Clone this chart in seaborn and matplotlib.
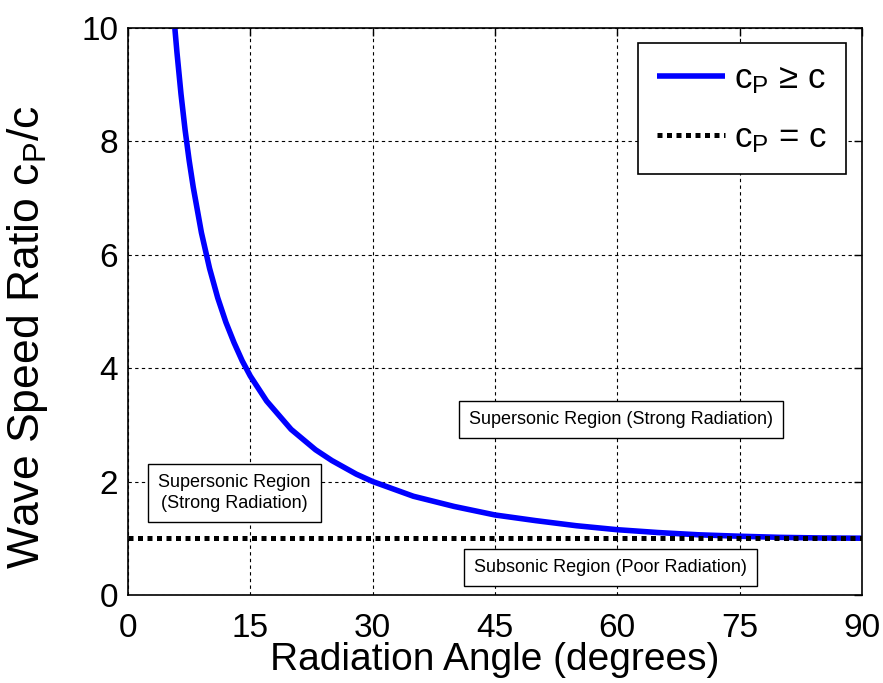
import matplotlib
matplotlib.use("Agg")
import matplotlib.pyplot as plt
import seaborn as sns
import pandas as pd

# Radiation angle (degrees) and wave speed ratio cP/c along the coincidence curve
angle = [5.74, 6.0, 6.5, 7.0, 7.5, 8.0, 9.0, 10.0, 11.0, 12.0, 13.0, 14.0, 15.0,
         17.0, 20.0, 23.0, 25.0, 28.0, 30.0, 35.0, 40.0, 45.0, 50.0, 55.0,
         60.0, 65.0, 70.0, 75.0, 80.0, 85.0, 90.0]
ratio = [10.0, 9.57, 8.83, 8.20, 7.66, 7.19, 6.39, 5.76, 5.24, 4.81, 4.45, 4.13, 3.86,
         3.42, 2.92, 2.56, 2.37, 2.13, 2.00, 1.74, 1.56, 1.41, 1.31, 1.22,
         1.15, 1.10, 1.06, 1.035, 1.015, 1.004, 1.0]

# Reference line cP = c
ref_angle = [0.0, 90.0]
ref_ratio = [1.0, 1.0]

x_ticks = [0, 15, 30, 45, 60, 75, 90]
y_ticks = [0, 2, 4, 6, 8, 10]

curve = pd.DataFrame({"angle": angle, "ratio": ratio})
ref = pd.DataFrame({"angle": ref_angle, "ratio": ref_ratio})

sns.set_theme(style="white")
plt.rcParams["font.family"] = ["Liberation Sans", "DejaVu Sans"]
plt.rcParams["mathtext.default"] = "regular"
plt.rcParams["text.color"] = "black"
plt.rcParams["axes.labelcolor"] = "black"

fig = plt.figure(figsize=(8.83, 6.83), dpi=100)
ax = fig.add_axes([0.145, 0.129, 0.831, 0.830])

sns.lineplot(data=curve, x="angle", y="ratio", ax=ax, color="#0000ff", lw=4,
             label=r"c$_{\mathregular{P}}$ ≥ c", solid_capstyle="butt")
sns.lineplot(data=ref, x="angle", y="ratio", ax=ax, color="black", lw=3.6,
             linestyle=(0, (1, 0.9)), dash_capstyle="butt",
             label=r"c$_{\mathregular{P}}$ = c")

ax.set_xlim(0, 90)
ax.set_ylim(0, 10)
ax.set_xticks(x_ticks)
ax.set_yticks(y_ticks)
ax.grid(True, color="black", linestyle=(0, (3, 3)), lw=0.8)
ax.tick_params(direction="in", length=6, width=1, top=True, right=True,
               labelsize=24, colors="black")
ax.tick_params(axis="x", pad=13)
ax.tick_params(axis="y", pad=7)
for s in ax.spines.values():
    s.set_color("black")
    s.set_linewidth(1.2)

ax.set_xlabel("Radiation Angle (degrees)", fontsize=28)
ax.set_ylabel(r"Wave Speed Ratio c$_{\mathregular{P}}$/c", fontsize=32)
ax.xaxis.set_label_coords(0.5, -0.083)
ax.yaxis.set_label_coords(-0.106, 0.455)

box = dict(boxstyle="square,pad=0.55", fc="white", ec="black", lw=1)
ax.text(60.45, 3.10, "Supersonic Region (Strong Radiation)", fontsize=13,
        ha="center", va="center", bbox=box, zorder=5)
ax.text(13.06, 1.80, "Supersonic Region\n(Strong Radiation)", fontsize=13,
        ha="center", va="center", bbox=box, linespacing=1.35, zorder=5)
ax.text(59.2, 0.49, "Subsonic Region (Poor Radiation)", fontsize=13,
        ha="center", va="center", bbox=box, zorder=5)

leg = ax.legend(loc="upper right", bbox_to_anchor=(0.978, 0.9735), fontsize=25,
                frameon=True, fancybox=False, edgecolor="black", framealpha=1,
                handlelength=1.95, borderaxespad=0, borderpad=0.55,
                labelspacing=0.72, handletextpad=0.25)
leg.get_frame().set_linewidth(1.2)
for t in leg.get_texts():
    t.set_color("black")

fig.savefig("out.png", dpi=100)
